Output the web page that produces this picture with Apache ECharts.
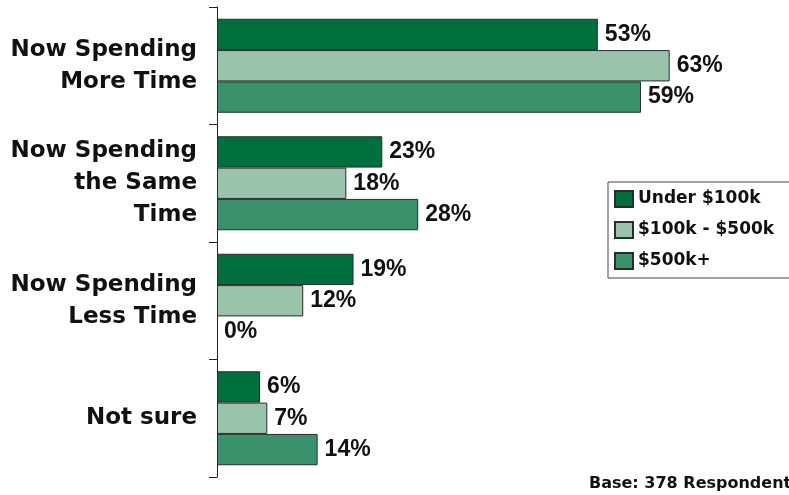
<!DOCTYPE html>
<html>
<head>
<meta charset="utf-8">
<script src="https://cdn.jsdelivr.net/npm/echarts@6/dist/echarts.min.js"></script>
<style>html,body{margin:0;padding:0;background:#fff;}#c{width:789px;height:495px;}</style>
</head>
<body>
<div id="c"></div>
<script>
var categories = ["Now Spending\nMore Time", "Now Spending\nthe Same\nTime", "Now Spending\nLess Time", "Not sure"];
var seriesNames = ["Under $100k", "$100k - $500k", "$500k+"];
var under100k = [53, 23, 19, 6];
var mid100to500k = [63, 18, 12, 7];
var over500k = [59, 28, 0, 14];
var baseNote = "Base: 378 Respondents";

var colors = ["#006f3d", "#99c4ab", "#3a926c"];
var chart = echarts.init(document.getElementById('c'), null, {renderer: 'canvas'});
function mk(name, data, color) {
  return {
    name: name, type: 'bar',
    data: data.map(function (v) { return v === 0 ? {value: v, itemStyle: {borderWidth: 0}} : v; }),
    barGap: '0%', barCategoryGap: '20%',
    itemStyle: {color: color, borderColor: '#2b2b2b', borderWidth: 1},
    label: {show: true, position: 'right', distance: 7, formatter: '{c}%',
      fontFamily: 'Liberation Sans', fontWeight: 'bold', fontSize: 23, color: '#111'}
  };
}
chart.setOption({
  animation: false,
  grid: {left: 217, top: 7, bottom: 18, right: 69, containLabel: false},
  xAxis: {type: 'value', min: 0, max: 70, show: false, splitLine: {show: false}},
  yAxis: {
    type: 'category', data: categories, inverse: true, boundaryGap: true,
    axisLine: {show: true, lineStyle: {color: '#222', width: 1}},
    axisTick: {show: true, length: 8, lineStyle: {color: '#222'}},
    axisLabel: {margin: 20, fontFamily: 'DejaVu Sans', fontWeight: 'bold', fontSize: 23,
      lineHeight: 32, color: '#111', align: 'right'}
  },
  legend: {
    orient: 'vertical', left: 608, top: 182,
    data: seriesNames,
    icon: 'rect',
    itemWidth: 18, itemHeight: 16, itemGap: 13,
    padding: [8, 20, 8, 6],
    borderColor: '#444', borderWidth: 1,
    textStyle: {fontFamily: 'DejaVu Sans', fontWeight: 'bold', fontSize: 17, color: '#111'}
  },
  graphic: [{type: 'text', left: 589, top: 476,
    style: {text: baseNote, font: 'bold 16px "DejaVu Sans"', fill: '#111'}}],
  series: [mk(seriesNames[0], under100k, colors[0]), mk(seriesNames[1], mid100to500k, colors[1]), mk(seriesNames[2], over500k, colors[2])]
});
</script>
</body>
</html>
